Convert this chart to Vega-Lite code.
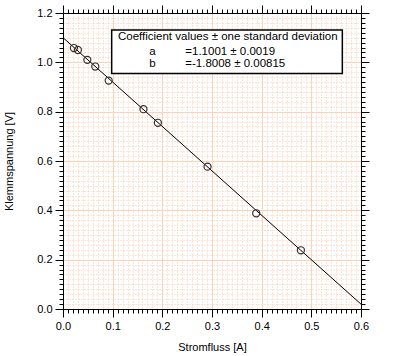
{
  "$schema": "https://vega.github.io/schema/vega-lite/v6.json",
  "width": 298,
  "height": 296,
  "autosize": {"type": "none"},
  "padding": {"left": 63, "top": 13, "right": 34, "bottom": 47},
  "background": "white",
  "config": {
    "font": "Liberation Sans",
    "view": {"stroke": null},
    "axis": {
      "domainColor": "black",
      "tickColor": "black",
      "labelColor": "black",
      "titleColor": "black",
      "labelFont": "Liberation Sans",
      "titleFont": "Liberation Sans",
      "labelFontSize": 11,
      "titleFontSize": 11,
      "titleFontWeight": "normal",
      "labelFlush": false,
      "labelOverlap": false
    }
  },
  "datasets": {
    "points": [
      {"I": 0.022, "U": 1.058},
      {"I": 0.030, "U": 1.050},
      {"I": 0.049, "U": 1.010},
      {"I": 0.065, "U": 0.983},
      {"I": 0.092, "U": 0.926},
      {"I": 0.162, "U": 0.810},
      {"I": 0.191, "U": 0.755},
      {"I": 0.291, "U": 0.577},
      {"I": 0.389, "U": 0.388},
      {"I": 0.479, "U": 0.238}
    ],
    "fit": [
      {"I": 0.0, "U": 1.1001},
      {"I": 0.6, "U": 0.01962}
    ],
    "box": [
      {"x1": 0.098, "x2": 0.5624, "y1": 0.955, "y2": 1.131}
    ],
    "centered": [
      {"tx": 0.3317, "ty": 1.1014, "t": "Coefficient values ± one standard deviation"},
      {"tx": 0.1799, "ty": 1.0405, "t": "a"},
      {"tx": 0.1799, "ty": 0.995, "t": "b"}
    ],
    "lefttext": [
      {"tx": 0.2462, "ty": 1.0405, "t": "=1.1001 ± 0.0019"},
      {"tx": 0.2462, "ty": 0.995, "t": "=-1.8008 ± 0.00815"}
    ]
  },
  "resolve": {"axis": {"x": "independent", "y": "independent"}},
  "layer": [
    {
      "data": {"name": "fit"},
      "mark": {"type": "point", "opacity": 0},
      "encoding": {
        "x": {"field": "I", "type": "quantitative", "scale": {"domain": [0, 0.6], "nice": false, "zero": false},
          "axis": {"orient": "bottom", "values": [0, 0.01, 0.02, 0.03, 0.04, 0.05, 0.06, 0.07, 0.08, 0.09, 0.1, 0.11, 0.12, 0.13, 0.14, 0.15, 0.16, 0.17, 0.18, 0.19, 0.2, 0.21, 0.22, 0.23, 0.24, 0.25, 0.26, 0.27, 0.28, 0.29, 0.3, 0.31, 0.32, 0.33, 0.34, 0.35, 0.36, 0.37, 0.38, 0.39, 0.4, 0.41, 0.42, 0.43, 0.44, 0.45, 0.46, 0.47, 0.48, 0.49, 0.5, 0.51, 0.52, 0.53, 0.54, 0.55, 0.56, 0.57, 0.58, 0.59, 0.6],
            "labels": false, "tickSize": 4, "domain": false, "title": null,
            "grid": true, "gridColor": "#fbc8ab", "gridDash": [1, 2], "gridWidth": 1}},
        "y": {"field": "U", "type": "quantitative", "scale": {"domain": [0, 1.2], "nice": false, "zero": false},
          "axis": {"orient": "left", "values": [0, 0.02, 0.04, 0.06, 0.08, 0.1, 0.12, 0.14, 0.16, 0.18, 0.2, 0.22, 0.24, 0.26, 0.28, 0.3, 0.32, 0.34, 0.36, 0.38, 0.4, 0.42, 0.44, 0.46, 0.48, 0.5, 0.52, 0.54, 0.56, 0.58, 0.6, 0.62, 0.64, 0.66, 0.68, 0.7, 0.72, 0.74, 0.76, 0.78, 0.8, 0.82, 0.84, 0.86, 0.88, 0.9, 0.92, 0.94, 0.96, 0.98, 1.0, 1.02, 1.04, 1.06, 1.08, 1.1, 1.12, 1.14, 1.16, 1.18, 1.2],
            "labels": false, "tickSize": 4, "domain": false, "title": null,
            "grid": true, "gridColor": "#fbc8ab", "gridDash": [1, 2], "gridWidth": 1}}
      }
    },
    {
      "data": {"name": "fit"},
      "mark": {"type": "point", "opacity": 0},
      "encoding": {
        "x": {"field": "I", "type": "quantitative", "scale": {"domain": [0, 0.6], "nice": false, "zero": false},
          "axis": {"orient": "bottom", "values": [0, 0.1, 0.2, 0.3, 0.4, 0.5, 0.6], "format": ".1f",
            "tickSize": 8, "labelPadding": 3, "title": "Stromfluss [A]", "titlePadding": 10,
            "grid": true, "gridColor": "#fcd2b8", "gridWidth": 1}},
        "y": {"field": "U", "type": "quantitative", "scale": {"domain": [0, 1.2], "nice": false, "zero": false},
          "axis": {"orient": "left", "values": [0, 0.2, 0.4, 0.6, 0.8, 1.0, 1.2], "format": ".1f",
            "tickSize": 8, "labelPadding": 3, "title": "Klemmspannung [V]", "titlePadding": 22,
            "grid": true, "gridColor": "#fcd2b8", "gridWidth": 1}}
      }
    },
    {
      "data": {"name": "fit"},
      "mark": {"type": "point", "opacity": 0},
      "encoding": {
        "x": {"field": "I", "type": "quantitative", "scale": {"domain": [0, 0.6], "nice": false, "zero": false},
          "axis": {"orient": "top", "values": [0, 0.1, 0.2, 0.3, 0.4, 0.5, 0.6], "labels": false,
            "tickSize": 8, "title": null, "grid": false}},
        "y": {"field": "U", "type": "quantitative", "scale": {"domain": [0, 1.2], "nice": false, "zero": false},
          "axis": {"orient": "right", "values": [0, 0.2, 0.4, 0.6, 0.8, 1.0, 1.2], "labels": false,
            "tickSize": 8, "title": null, "grid": false}}
      }
    },
    {
      "data": {"name": "fit"},
      "mark": {"type": "point", "opacity": 0},
      "encoding": {
        "x": {"field": "I", "type": "quantitative", "scale": {"domain": [0, 0.6], "nice": false, "zero": false},
          "axis": {"orient": "top", "values": [0, 0.01, 0.02, 0.03, 0.04, 0.05, 0.06, 0.07, 0.08, 0.09, 0.1, 0.11, 0.12, 0.13, 0.14, 0.15, 0.16, 0.17, 0.18, 0.19, 0.2, 0.21, 0.22, 0.23, 0.24, 0.25, 0.26, 0.27, 0.28, 0.29, 0.3, 0.31, 0.32, 0.33, 0.34, 0.35, 0.36, 0.37, 0.38, 0.39, 0.4, 0.41, 0.42, 0.43, 0.44, 0.45, 0.46, 0.47, 0.48, 0.49, 0.5, 0.51, 0.52, 0.53, 0.54, 0.55, 0.56, 0.57, 0.58, 0.59, 0.6],
            "labels": false, "tickSize": 4, "domain": false, "title": null, "grid": false}},
        "y": {"field": "U", "type": "quantitative", "scale": {"domain": [0, 1.2], "nice": false, "zero": false},
          "axis": {"orient": "right", "values": [0, 0.02, 0.04, 0.06, 0.08, 0.1, 0.12, 0.14, 0.16, 0.18, 0.2, 0.22, 0.24, 0.26, 0.28, 0.3, 0.32, 0.34, 0.36, 0.38, 0.4, 0.42, 0.44, 0.46, 0.48, 0.5, 0.52, 0.54, 0.56, 0.58, 0.6, 0.62, 0.64, 0.66, 0.68, 0.7, 0.72, 0.74, 0.76, 0.78, 0.8, 0.82, 0.84, 0.86, 0.88, 0.9, 0.92, 0.94, 0.96, 0.98, 1.0, 1.02, 1.04, 1.06, 1.08, 1.1, 1.12, 1.14, 1.16, 1.18, 1.2],
            "labels": false, "tickSize": 4, "domain": false, "title": null, "grid": false}}
      }
    },
    {
      "data": {"name": "fit"},
      "mark": {"type": "line", "color": "black", "strokeWidth": 1, "clip": true},
      "encoding": {
        "x": {"field": "I", "type": "quantitative", "axis": null},
        "y": {"field": "U", "type": "quantitative", "axis": null}
      }
    },
    {
      "data": {"name": "points"},
      "mark": {"type": "point", "shape": "circle", "filled": false, "size": 50, "color": "#333333", "strokeWidth": 1.2, "opacity": 1},
      "encoding": {
        "x": {"field": "I", "type": "quantitative", "axis": null},
        "y": {"field": "U", "type": "quantitative", "axis": null}
      }
    },
    {
      "data": {"name": "box"},
      "mark": {"type": "rect", "fill": "white", "stroke": "black", "strokeWidth": 1.5},
      "encoding": {
        "x": {"field": "x1", "type": "quantitative", "axis": null},
        "x2": {"field": "x2"},
        "y": {"field": "y1", "type": "quantitative", "axis": null},
        "y2": {"field": "y2"}
      }
    },
    {
      "data": {"name": "centered"},
      "mark": {"type": "text", "fontSize": 11.5, "font": "Liberation Sans", "color": "black", "baseline": "middle", "align": "center"},
      "encoding": {
        "x": {"field": "tx", "type": "quantitative", "axis": null},
        "y": {"field": "ty", "type": "quantitative", "axis": null},
        "text": {"field": "t"}
      }
    },
    {
      "data": {"name": "lefttext"},
      "mark": {"type": "text", "fontSize": 11.5, "font": "Liberation Sans", "color": "black", "baseline": "middle", "align": "left"},
      "encoding": {
        "x": {"field": "tx", "type": "quantitative", "axis": null},
        "y": {"field": "ty", "type": "quantitative", "axis": null},
        "text": {"field": "t"}
      }
    }
  ]
}
